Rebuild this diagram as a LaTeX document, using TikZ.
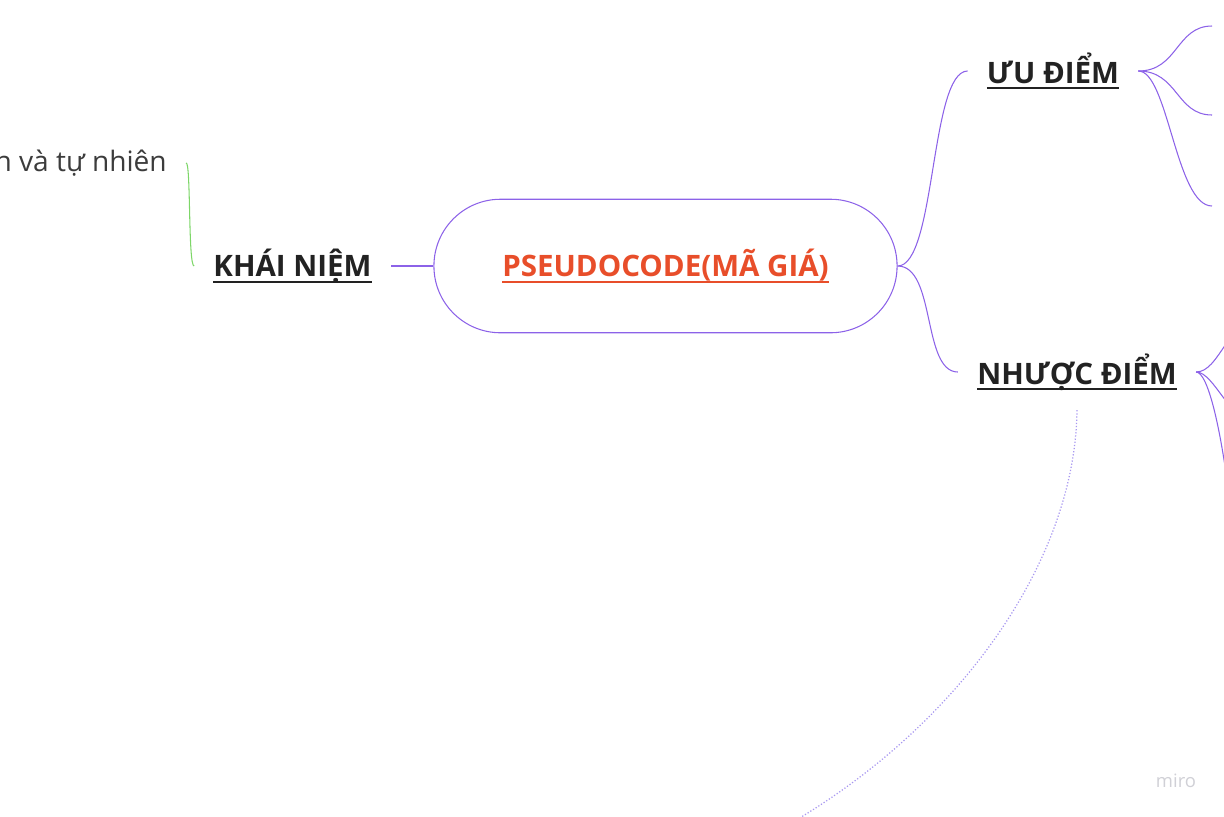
\documentclass[tikz,border=0pt]{standalone}
\usepackage{fontspec}
\setmainfont{Open Sans}
\usepackage{xcolor}
\usetikzlibrary{positioning}

\definecolor{mmpurple}{RGB}{140,98,232}
\definecolor{mmgreen}{RGB}{125,214,104}
\definecolor{mmdots}{RGB}{168,152,240}
\definecolor{mmorange}{RGB}{232,78,42}
\definecolor{mmtext}{RGB}{34,34,34}
\definecolor{mmnote}{RGB}{60,60,60}
\definecolor{mmmark}{RGB}{208,208,214}

\newcommand\mmul[1]{\setbox0\hbox{#1}\rlap{\rule[-3.4pt]{\wd0}{1.2pt}}\box0}

\begin{document}
\begin{tikzpicture}[x=0.02cm, y=-0.02cm,
    root/.style={draw=mmpurple, line width=0.6pt, rounded corners=37.9pt, minimum width=263.6pt, minimum height=76pt, text=mmorange, font=\fontsize{16.8}{20}\selectfont\bfseries},
    branch/.style={inner xsep=10.8pt, inner ysep=0pt, minimum height=43pt, text=mmtext, font=\fontsize{16.8}{20}\selectfont\bfseries},
    note/.style={inner xsep=10.8pt, text=mmnote, font=\fontsize{16}{19}\selectfont},
    link/.style={draw=mmpurple, line width=0.6pt},
    sublink/.style={draw=mmgreen, line width=0.6pt},
    dotlink/.style={draw=mmdots, line width=0.7pt, dash pattern=on 0.7pt off 1.1pt}
]
    \useasboundingbox (0,0) rectangle (1224,816);
    \clip (0,0) rectangle (1224,816);

    \node[root]   (root)  at (665.5,266) {\mmul{PSEUDOCODE(MÃ GIÁ)}};
    \node[branch] (khai)  at (292.5,266) {\mmul{KHÁI NIỆM}};
    \node[branch] (uu)    at (1053,71)   {\mmul{ƯU ĐIỂM}};
    \node[branch] (nhuoc) at (1077,372)  {\mmul{NHƯỢC ĐIỂM}};
    \node[note, anchor=east] (dinhnghia) at (186,163) {n và tự nhiên};

    \coordinate (uu1) at (1212,26);
    \coordinate (uu2) at (1212,115);
    \coordinate (uu3) at (1212,206);
    \coordinate (nh1) at (1262,318);
    \coordinate (nh2) at (1262,425);
    \coordinate (nh3) at (1232,520);
    \coordinate (tiep) at (740,850);

    \draw[link] (root.west) -- (khai.east);
    \draw[link] (root.east) .. controls (936,266) and (930,71) .. (uu.west);
    \draw[link] (root.east) .. controls (936,266) and (922,372) .. (nhuoc.west);
    \draw[sublink] (khai.west) .. controls (188,266) and (191,160) .. (dinhnghia.east);

    \draw[link] (uu.east) .. controls (1178,71) and (1176,26) .. (uu1);
    \draw[link] (uu.east) .. controls (1178,71) and (1176,115) .. (uu2);
    \draw[link] (uu.east) .. controls (1168,71) and (1176,206) .. (uu3);

    \draw[link] (nhuoc.east) .. controls (1220,372) and (1228,318) .. (nh1);
    \draw[link] (nhuoc.east) .. controls (1215,372) and (1230,425) .. (nh2);
    \draw[link] (nhuoc.east) .. controls (1208,372) and (1222,430) .. (nh3);

    \draw[dotlink] (nhuoc.south) .. controls (1075,580) and (930,760) .. (tiep);

    \node[text=mmmark, font=\fontsize{10.5}{12}\selectfont] (miro) at (1176,781) {miro};
\end{tikzpicture}
\end{document}
